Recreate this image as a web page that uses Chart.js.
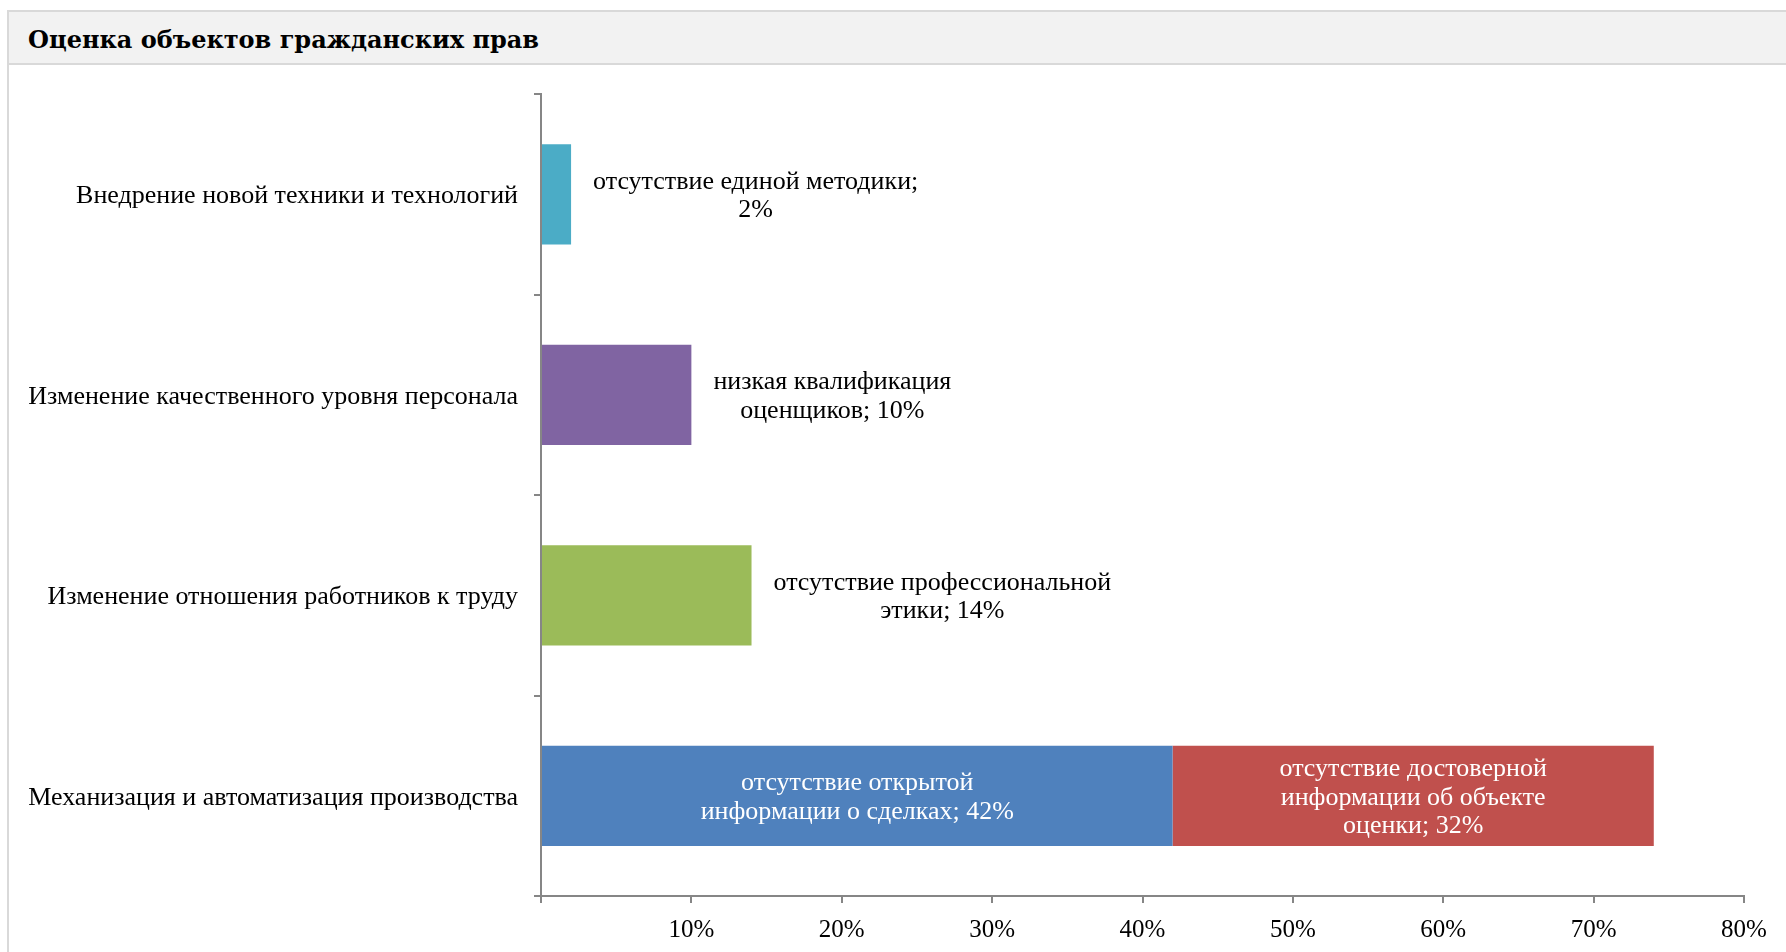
<!DOCTYPE html>
<html>
<head>
<meta charset="utf-8">
<script src="https://cdn.jsdelivr.net/npm/chart.js@4.4.1/dist/chart.umd.min.js"></script>
<style>
  html, body { margin: 0; padding: 0; background: #ffffff; overflow: hidden; }
  #frame { position: absolute; left: 7px; top: 10px; width: 1800px; height: 1000px; border-left: 2px solid #d9d9d9; border-top: 2px solid #d9d9d9; }
  #titlebar { position: absolute; left: 9px; top: 12px; width: 1800px; height: 51px; background: #f2f2f2; border-bottom: 2px solid #d9d9d9; }
  #title { position: absolute; left: 28px; top: 28px; font: bold 24px "DejaVu Serif"; line-height: 24px; color: #000; white-space: nowrap; }
  #c { position: absolute; left: 0; top: 0; }
</style>
</head>
<body>
<div id="frame"></div>
<div id="titlebar"></div>
<div id="title">Оценка объектов гражданских прав</div>
<canvas id="c" width="1786" height="952"></canvas>
<script>
// ---- data ----
const categories = [
  "Внедрение новой техники и технологий",
  "Изменение качественного уровня персонала",
  "Изменение отношения работников к труду",
  "Механизация и автоматизация производства"
];
const uniformMethod    = [2, null, null, null];
const lowQualification = [null, 10, null, null];
const noEthics         = [null, null, 14, null];
const noOpenInfo       = [null, null, null, 42];
const noReliableInfo   = [null, null, null, 32];

const seriesLabels = [
  ["отсутствие единой методики;", "{v}"],
  ["низкая квалификация", "оценщиков; {v}"],
  ["отсутствие профессиональной", "этики; {v}"],
  ["отсутствие открытой", "информации о сделках; {v}"],
  ["отсутствие достоверной", "информации об объекте", "оценки; {v}"]
];
const seriesColors = ["#4bacc6", "#8064a2", "#9bbb59", "#4f81bd", "#c0504d"];
const seriesData = [uniformMethod, lowQualification, noEthics, noOpenInfo, noReliableInfo];

const xTickValues = [0, 10, 20, 30, 40, 50, 60, 70, 80];

const FONT = '"Liberation Serif", "Times New Roman", serif';
const AXIS = '#868686';

const labelPlugin = {
  id: 'barLabels',
  afterDatasetsDraw(chart) {
    const ctx = chart.ctx;
    ctx.save();
    ctx.font = '26px ' + FONT;
    ctx.textAlign = 'center';
    ctx.textBaseline = 'middle';
    const lh = 28.5, gap = 22;
    chart.data.datasets.forEach((ds, di) => {
      const meta = chart.getDatasetMeta(di);
      meta.data.forEach((bar, i) => {
        const v = ds.data[i];
        if (v == null) return;
        const lines = seriesLabels[di].map(l => l.replace('{v}', v + '%'));
        const w = Math.max(...lines.map(l => ctx.measureText(l).width));
        const left = Math.min(bar.x, bar.base), right = Math.max(bar.x, bar.base);
        const inside = w + 20 < right - left;
        const cx = inside ? (left + right) / 2 : right + gap + w / 2;
        ctx.fillStyle = inside ? '#ffffff' : '#000000';
        lines.forEach((l, k) => {
          ctx.fillText(l, cx, bar.y + 2 + (k - (lines.length - 1) / 2) * lh);
        });
      });
    });
    ctx.restore();
  }
};

new Chart(document.getElementById('c'), {
  type: 'bar',
  data: {
    labels: categories,
    datasets: seriesData.map((d, i) => ({
      label: seriesLabels[i].join(' ').replace(/;?\s*\{v\}/, ''),
      data: d,
      backgroundColor: seriesColors[i],
      borderWidth: 0,
      categoryPercentage: 0.5,
      barPercentage: 1.0
    }))
  },
  options: {
    indexAxis: 'y',
    responsive: false,
    animation: false,
    events: [],
    layout: { padding: { top: 94, right: 42, bottom: 0, left: 0 } },
    plugins: { legend: { display: false }, title: { display: false }, tooltip: { enabled: false } },
    scales: {
      y: {
        type: 'category',
        stacked: true,
        offset: true,
        grid: { display: true, drawOnChartArea: false, drawTicks: true, tickLength: 7, color: AXIS, lineWidth: 2, offset: true },
        border: { display: true, color: AXIS, width: 2 },
        ticks: { color: '#000', font: { family: FONT, size: 26 }, padding: 16, autoSkip: false, labelOffset: 2 },
        afterFit(s) { s.width = 541; }
      },
      x: {
        type: 'linear',
        stacked: true,
        min: xTickValues[0],
        max: xTickValues[xTickValues.length - 1],
        afterBuildTicks(s) { s.ticks = xTickValues.map(v => ({ value: v })); },
        grid: { display: true, drawOnChartArea: false, drawTicks: true, tickLength: 7, color: AXIS, lineWidth: 2 },
        border: { display: true, color: AXIS, width: 2 },
        ticks: { color: '#000', font: { family: FONT, size: 25 }, padding: 12, maxRotation: 0,
                 callback: v => v === 0 ? '' : v + '%' },
        afterFit(s) { s.height = 952 - 896; }
      }
    }
  },
  plugins: [labelPlugin]
});
</script>
</body>
</html>
